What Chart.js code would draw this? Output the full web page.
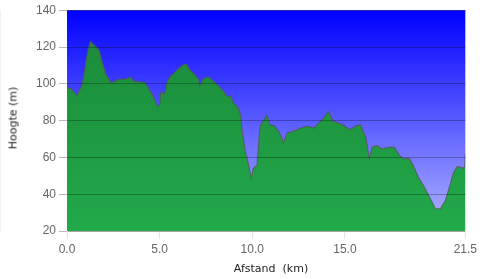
<!DOCTYPE html>
<html>
<head>
<meta charset="utf-8">
<script src="https://cdn.jsdelivr.net/npm/chart.js@4/dist/chart.umd.min.js"></script>
<style>
html,body{margin:0;padding:0;background:#fff;}
#wrap{width:480px;height:279px;position:relative;}
.ttl{position:absolute;font:11px 'DejaVu Sans';color:#222;white-space:pre;line-height:13px;}
#ytitle{left:13px;top:118px;transform:translate(-50%,-50%) rotate(-90deg);}
#xtitle{left:271px;top:268px;transform:translate(-50%,-50%);}
</style>
</head>
<body>
<div id="wrap"><canvas id="c" width="480" height="279"></canvas>
<div class="ttl" id="ytitle">Hoogte (m)</div>
<div class="ttl" id="xtitle">Afstand  (km)</div>
</div>
<script>
// distance along route (km)
const distanceKm = [0.00,0.05,0.26,0.53,0.79,0.95,1.11,1.26,1.37,1.58,1.74,1.89,2.11,2.37,2.63,2.79,3.16,3.42,3.58,3.95,4.21,4.26,4.63,4.89,5.00,5.05,5.26,5.42,5.58,5.79,6.05,6.32,6.47,6.63,6.89,7.11,7.16,7.37,7.63,7.89,8.16,8.42,8.68,8.84,9.00,9.21,9.37,9.47,9.63,9.79,9.95,10.05,10.26,10.32,10.42,10.58,10.79,10.95,11.21,11.47,11.68,11.89,12.26,12.63,12.95,13.32,13.68,13.84,14.11,14.37,14.89,15.26,15.58,15.84,16.11,16.32,16.47,16.74,17.00,17.37,17.68,17.95,18.16,18.47,18.68,18.95,19.26,19.63,19.89,20.16,20.42,20.68,20.84,21.05,21.21,21.37,21.47,21.50];
// elevation (m)
const elevationM = [97.5,98,97,93.6,99,107,117.4,123,121.9,120,118.3,112,105,100.7,101.6,102.5,102.5,103.7,101.6,101,100.7,99.8,93.6,87.6,88.5,95.4,94.5,101.6,104,106,108.6,110.7,110.5,107.7,105,102.5,99,103,103.7,101.6,99,96.3,92.8,93.5,89.3,87.6,83,73.4,62.8,56.6,48.7,54,55.8,64.6,77,79.6,83,77.8,77,73.4,68,73.4,74.3,76,77,76,79.6,81.3,84.9,79.6,77.8,75,77,77.8,71.6,59.3,65.5,66.4,64.6,65.5,65.5,61,59.3,59.5,55.8,49.6,44.3,37.3,32,32.2,36.4,45.2,51.3,54.9,54.9,54,55,62];
const xTickValues = [0, 5, 10, 15, 21.5];
const yTickValues = [20, 40, 60, 80, 100, 120, 140];

const points = distanceKm.map((d, i) => ({x: d, y: elevationM[i]}));

const bgPlugin = {
  id: 'bg',
  beforeDraw(chart) {
    const {ctx, chartArea: a} = chart;
    ctx.save();
    ctx.fillStyle = '#ffffff';
    ctx.fillRect(0, 0, chart.width, chart.height);
    const g = ctx.createLinearGradient(0, a.top, 0, a.bottom);
    g.addColorStop(0, '#0000ff');
    g.addColorStop(1, '#b2b6ff');
    ctx.fillStyle = g;
    ctx.fillRect(a.left, a.top, a.right - a.left, a.bottom - a.top);
    ctx.restore();
  }
};

function greenFill(context) {
  const chart = context.chart;
  const a = chart.chartArea;
  if (!a) return '#22a84a';
  const g = chart.ctx.createLinearGradient(0, a.top, 0, a.bottom);
  g.addColorStop(0, '#1a8738');
  g.addColorStop(1, '#22a94a');
  return g;
}

new Chart(document.getElementById('c'), {
  type: 'line',
  data: {datasets: [{data: points, fill: 'start', backgroundColor: greenFill, borderColor: 'rgba(85,85,85,0.75)', borderWidth: 1.2, pointRadius: 0, tension: 0}]},
  options: {
    responsive: false, animation: false, events: [],
    layout: {padding: 0},
    plugins: {legend: {display: false}, tooltip: {enabled: false}},
    scales: {
      x: {type: 'linear', min: 0, max: 21.5,
        afterFit(s) { s.height = 48; },
        afterBuildTicks(s) { s.ticks = xTickValues.map(v => ({value: v})); },
        ticks: {autoSkip: false, maxRotation: 0, callback: v => Number(v).toFixed(1)},
        grid: {drawOnChartArea: false}},
      y: {min: 20, max: 140,
        afterFit(s) { s.width = 67; },
        afterBuildTicks(s) { s.ticks = yTickValues.map(v => ({value: v})); },
        grid: {z: 1, color: 'rgba(0,0,0,0.28)'}}
    }
  },
  plugins: [bgPlugin]
});
</script>
</body>
</html>
